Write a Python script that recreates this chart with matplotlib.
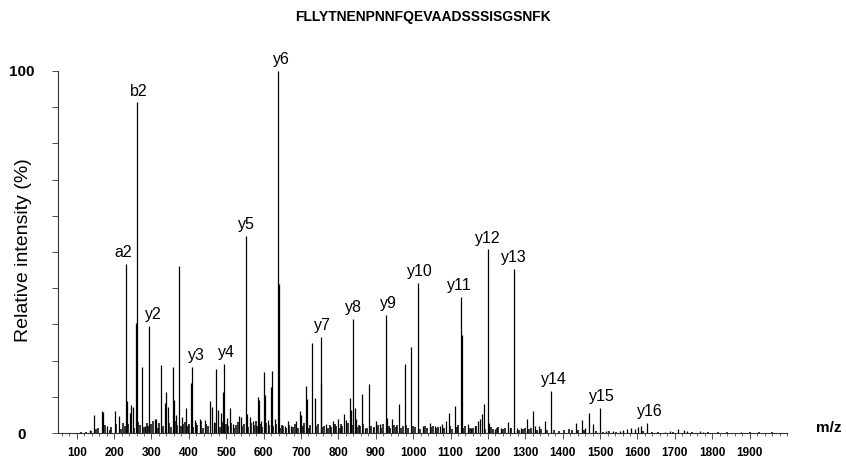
import matplotlib
matplotlib.use("Agg")
import matplotlib.pyplot as plt
from matplotlib.ticker import MultipleLocator, FixedLocator

plt.rcParams['font.family'] = ['Liberation Sans', 'DejaVu Sans']

title = "FLLYTNENPNNFQEVAADSSSISGSNFK"

# Annotated fragment ions
ion_labels = ['a2', 'b2', 'y2', 'y3', 'y4', 'y5', 'y6', 'y7', 'y8', 'y9',
              'y10', 'y11', 'y12', 'y13', 'y14', 'y15', 'y16']
ion_mz = [233.2, 261.2, 294.2, 408.2, 495.3, 552.3, 639.3, 752.4, 839.4, 926.5,
          1013.5, 1128.5, 1199.6, 1270.6, 1369.7, 1498.7, 1626.8]
ion_int = [46.7, 91.3, 29.6, 18.2, 19.1, 54.3, 100.0, 26.6, 31.4, 32.6,
           41.4, 37.5, 50.7, 45.2, 11.6, 6.8, 2.7]

# Other (unlabelled) peaks
other_mz = [135, 146.5, 167, 170.5, 182, 202, 212.5, 235, 242, 246, 251, 258.5, 274.8, 283.7,
            308.8, 313, 326.4, 335.5, 339.8, 344.4, 357, 359.6, 366.6, 373.8, 381.8, 391.7,
            405, 415.8, 429, 442.5, 457.5, 462, 466.6, 473.5, 478, 486.9, 491.4, 503, 509.3,
            518.2, 534.2, 538.8, 555.6, 562.8, 571.6, 585, 587.7, 593.8, 601.1, 603, 611.8,
            619, 622.5, 629.7, 640.5, 656.4, 665.2, 674, 687.4, 696.5, 700.8, 713.4, 716.8,
            730.2, 736.6, 753.5, 767.7, 785.6, 798.9, 815, 821.1, 830.2, 833.5, 843.6, 847.9,
            863.1, 871.9, 881.8, 891.7, 901.4, 910.5, 930.8, 943.3, 962.1, 977.3, 994.9,
            1026.2, 1044.1, 1057.5, 1070.9, 1077, 1088.5, 1094.9, 1111, 1129.5, 1146.6,
            1155.4, 1164.5, 1173.3, 1179.4, 1184, 1189.3, 1204, 1218, 1235.6, 1253.5, 1258,
            1278.4, 1289.1, 1304.3, 1320.4, 1324.9, 1335.6, 1352.5, 1436.2, 1451.4, 1460,
            1469.3, 1480.8, 1516.4, 1534, 1552, 1561, 1572.5, 1581.6, 1592.3, 1601.1, 1610,
            1672.5, 1685.9, 1708, 1724, 1733, 1766, 1775, 1877]
other_int = [0.8, 5.0, 6.1, 5.9, 1.8, 6.1, 4.7, 8.8, 5.4, 7.7, 7.3, 30.3, 18.3, 2.0,
             3.8, 3.8, 18.7, 8.4, 11.4, 7.2, 18.1, 9.0, 5.0, 46.2, 4.4, 7.0,
             13.7, 3.5, 4.0, 3.5, 8.9, 7.2, 3.0, 17.6, 6.4, 5.4, 11.4, 4.2, 6.8,
             2.6, 4.7, 4.3, 5.2, 4.4, 3.2, 10.0, 9.1, 3.4, 16.9, 10.5, 3.5,
             12.8, 17.1, 4.0, 41.2, 2.0, 3.4, 2.0, 3.2, 6.0, 5.0, 13.0, 9.3,
             24.9, 9.6, 13.8, 2.6, 3.2, 4.0, 5.3, 3.5, 9.6, 6.4, 7.0, 3.8,
             10.8, 1.5, 13.5, 1.5, 3.2, 2.6, 4.2, 3.8, 8.0, 19.1, 23.8,
             1.8, 2.8, 1.8, 2.0, 2.5, 3.4, 5.4, 7.5, 27.0, 2.4,
             1.4, 1.8, 3.2, 4.0, 5.3, 8.0, 2.8, 1.2, 1.4, 3.0, 1.5,
             1.5, 1.3, 3.9, 6.0, 2.0, 2.0, 3.4, 2.8, 3.5, 1.5,
             5.4, 2.6, 0.6, 0.6, 0.6, 0.8, 1.0, 1.3, 1.2, 1.7, 2.0,
             0.4, 0.5, 1.1, 0.7, 0.5, 0.5, 0.4, 0.4]

# Low-level background peaks
noise_mz = [112, 124, 138, 152, 158, 176, 188, 193, 206, 219,
            223, 228, 238, 253, 265, 269, 279, 287, 291, 299,
            303, 317, 321, 331, 348, 352, 363, 369, 378, 385,
            389, 397, 401, 411, 419, 423, 433, 438, 447, 451,
            469, 482, 489, 499, 506, 514, 522, 527, 531, 541,
            547, 559, 566, 575, 579, 582, 590, 597, 607, 615,
            626, 633, 643, 648, 652, 661, 669, 678, 683, 691,
            705, 709, 721, 725, 741, 746, 757, 762, 772, 777,
            781, 790, 794, 803, 808, 811, 825, 836, 851, 855,
            859, 867, 876, 886, 895, 906, 915, 920, 935, 939,
            948, 953, 957, 968, 972, 982, 987, 1000, 1005, 1019,
            1031, 1036, 1049, 1053, 1062, 1066, 1083, 1098, 1103, 1117,
            1121, 1133, 1138, 1151, 1159, 1169, 1193, 1209, 1213, 1223,
            1228, 1241, 1246, 1263, 1283, 1294, 1298, 1309, 1315, 1330,
            1341, 1358, 1378, 1390, 1404, 1418, 1426, 1442, 1456, 1489,
            1507, 1525, 1543, 1615, 1640, 1655, 1696, 1745, 1790, 1815,
            1840, 1900, 1925, 1960]
noise_int = [0.3, 0.4, 0.6, 1.1, 1.4, 2.1, 0.9, 1.7, 2.6, 1.2,
             2.9, 1.8, 2.4, 1.5, 3.1, 2.2, 1.6, 2.8, 1.9, 2.5,
             3.3, 1.4, 2.7, 2.0, 2.9, 1.7, 3.2, 2.3, 1.8, 2.6,
             3.0, 1.9, 2.4, 1.6, 2.8, 2.1, 3.4, 1.5, 2.6, 2.0,
             2.9, 1.7, 3.1, 2.4, 1.9, 2.7, 1.5, 2.2, 3.0, 1.8,
             2.5, 1.6, 2.8, 2.1, 3.2, 1.9, 2.4, 1.7, 2.9, 2.2,
             1.8, 2.6, 1.5, 2.3, 1.9, 1.4, 2.1, 1.6, 2.4, 1.3,
             1.9, 2.7, 1.5, 2.2, 1.8, 2.5, 1.6, 2.0, 1.4, 2.3,
             1.7, 2.6, 1.9, 1.5, 2.4, 1.8, 2.8, 2.1, 1.6, 2.3,
             1.9, 2.5, 1.4, 2.0, 1.7, 2.2, 1.5, 2.4, 1.8, 1.3,
             2.1, 1.6, 2.3, 1.4, 1.9, 2.2, 1.5, 2.0, 1.7, 1.2,
             1.8, 1.4, 1.6, 2.0, 1.3, 1.7, 1.5, 1.9, 1.2, 1.6,
             2.1, 1.4, 1.8, 1.3, 1.5, 1.9, 1.2, 1.6, 1.1, 1.4,
             1.7, 1.0, 1.3, 1.5, 0.9, 1.2, 1.4, 1.0, 1.3, 0.8,
             1.1, 0.7, 0.9, 0.6, 0.8, 1.0, 0.7, 0.9, 0.8, 0.5,
             0.4, 0.5, 0.4, 0.5, 0.4, 0.3, 0.4, 0.3, 0.3, 0.4,
             0.3, 0.3, 0.3, 0.3]

x_major = list(range(100, 2000, 100))

# label horizontal offsets in points (style)
label_dx = [-2.2, 1.2, 2.9, 3.6, 1.2, 0.7, 2.2, 1.4, 0.0, 1.7,
            1.0, -1.2, 0.0, 0.0, 2.2, 1.4, 1.7]

W, H = 846, 461
fig = plt.figure(figsize=(W / 100, H / 100), dpi=100)
ax = fig.add_axes([58 / W, (H - 433) / H, (787 - 58) / W, (433 - 71) / H])

ax.vlines(noise_mz, 0, noise_int, color='black', lw=1.1)
ax.vlines(other_mz, 0, other_int, color='black', lw=0.9)
ax.vlines(ion_mz, 0, ion_int, color='black', lw=0.9)

for lab, mz, it, dx in zip(ion_labels, ion_mz, ion_int, label_dx):
    ax.annotate(lab, (mz, it), xytext=(dx, 5), textcoords='offset points',
                ha='center', va='baseline', fontsize=11.5, color='black',
                annotation_clip=False)

ax.set_xlim(50, 2000)
ax.set_ylim(0, 100)

for s in ['top', 'right']:
    ax.spines[s].set_visible(False)
for s in ['left', 'bottom']:
    ax.spines[s].set_color('#333333')
    ax.spines[s].set_linewidth(0.8)

ax.xaxis.set_major_locator(FixedLocator(x_major))
ax.set_xticklabels([str(v) for v in x_major], fontsize=8.5, fontweight='bold')
ax.xaxis.set_minor_locator(MultipleLocator(20))
ax.tick_params(axis='x', which='major', length=4, width=0.6, direction='out', pad=6, color='#333333')
ax.tick_params(axis='x', which='minor', length=2.5, width=0.5, direction='out', color='#333333')

ax.set_yticks([0, 100])
ax.set_yticklabels(['0', '100'], fontsize=11, fontweight='bold', ha='center')
ax.yaxis.set_minor_locator(MultipleLocator(10))
ax.tick_params(axis='y', which='major', length=4, width=0.6, direction='out', pad=22, color='#333333')
ax.tick_params(axis='y', which='minor', length=4, width=0.6, direction='out', color='#333333')

fig.text(23 / W, 1 - 250 / H, 'Relative intensity (%)', rotation=90,
         ha='center', va='center', fontsize=14)
fig.text(829 / W, 1 - 428 / H, 'm/z', ha='center', va='center',
         fontsize=11, fontweight='bold')
fig.text(423 / W, 1 - 17 / H, title, ha='center', va='center',
         fontsize=10, fontweight='bold')

fig.savefig('out.png', dpi=100)
